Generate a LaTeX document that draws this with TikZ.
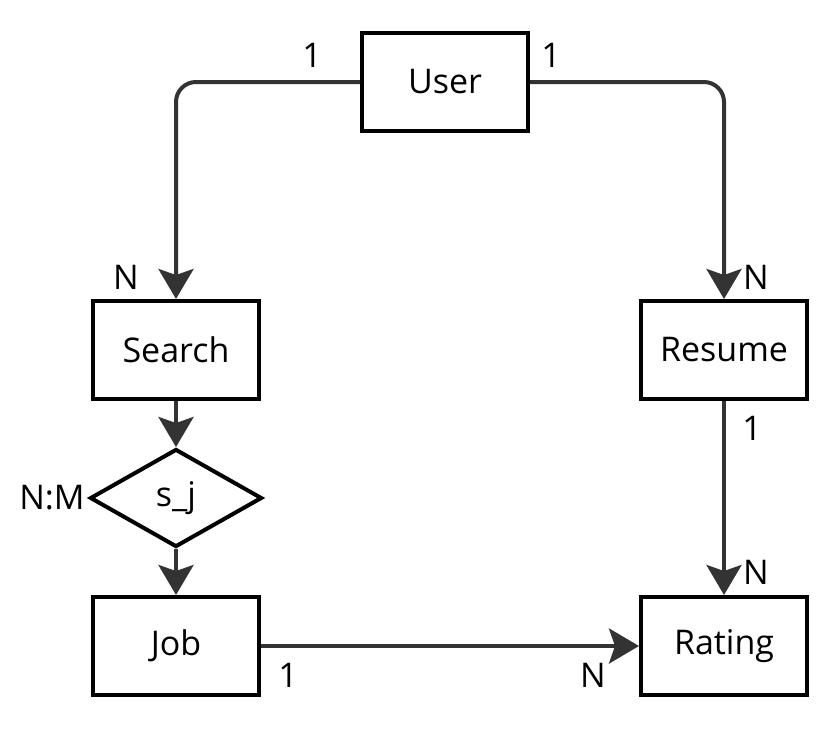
\documentclass[tikz,border=0pt]{standalone}
\usepackage{fontspec}
\setmainfont{Open Sans}
\usetikzlibrary{arrows.meta,shapes.geometric}

\begin{document}
\begin{tikzpicture}[
  x=0.5pt, y=-0.5pt,
  font=\fontsize{17}{20}\selectfont,
  >={Stealth[length=15pt, width=17.5pt, inset=3pt]},
  entity/.style={draw, line width=2pt, minimum width=83pt, minimum height=49pt,
                 inner sep=0pt, align=center},
  rel/.style={draw, line width=2pt, diamond, aspect=1.75, minimum width=86pt,
              minimum height=49pt, inner sep=0pt},
  link/.style={draw=black!80, line width=2pt, rounded corners=10pt},
  card/.style={inner sep=0pt}
]
\useasboundingbox (0,0) rectangle (839,729);

% ---------- entitas ----------
\node[entity] (user)   at (445,82)  {User};
\node[entity] (search) at (176,350) {Search};
\node[entity] (resume) at (724,350) {Resume};
\node[rel]    (sj)     at (176,498) {s\_j};
\node[entity] (job)    at (176,646) {Job};
\node[entity] (rating) at (724,646) {Rating};

% ---------- relasi ----------
\draw[link,->] (user.west)   -| (search.north);
\draw[link,->] (user.east)   -| (resume.north);
\draw[link,->] (search.south) -- (sj.north);
\draw[link,->] (sj.south)     -- (job.north);
\draw[link,->] (resume.south) -- (rating.north);
\draw[link,->] (job.east)     -- (rating.west);

% ---------- kardinalitas ----------
\node[card] (c1) at (312,55)  {1};
\node[card] (c2) at (551,55)  {1};
\node[card] (c3) at (126,277) {N};
\node[card] (c4) at (756,277) {N};
\node[card] (c5) at (752,428) {1};
\node[card] (c6) at (52,498)  {N:M};
\node[card] (c7) at (756,572) {N};
\node[card] (c8) at (288,675) {1};
\node[card] (c9) at (593,675) {N};

\end{tikzpicture}
\end{document}
